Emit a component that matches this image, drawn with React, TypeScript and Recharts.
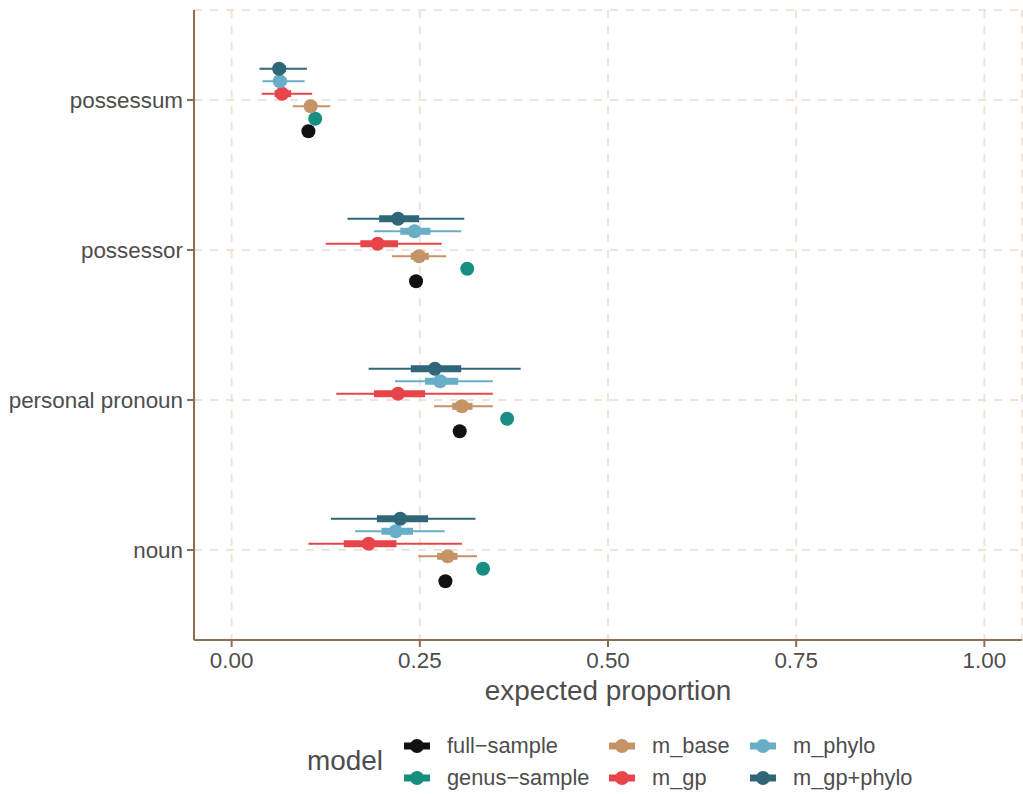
import React from "react"
import { ScatterChart, Scatter, XAxis, YAxis, CartesianGrid, ErrorBar } from "recharts"

// categories from top to bottom
const categories = ["possessum", "possessor", "personal pronoun", "noun"]
const xTicks = [0, 0.25, 0.5, 0.75, 1]

const models = ["full-sample", "genus-sample", "m_base", "m_gp", "m_phylo", "m_gp+phylo"]

// point estimates per category (same order as categories)
const fullSample = [0.102, 0.245, 0.303, 0.284]
const genusSample = [0.111, 0.313, 0.366, 0.334]

const baseEst = [0.105, 0.249, 0.306, 0.287]
const baseLo95 = [0.081, 0.213, 0.269, 0.248]
const baseHi95 = [0.131, 0.285, 0.347, 0.326]
const baseLo50 = [0.097, 0.238, 0.293, 0.273]
const baseHi50 = [0.113, 0.262, 0.32, 0.3]

const gpEst = [0.067, 0.194, 0.221, 0.182]
const gpLo95 = [0.04, 0.125, 0.139, 0.102]
const gpHi95 = [0.107, 0.279, 0.347, 0.306]
const gpLo50 = [0.057, 0.171, 0.189, 0.149]
const gpHi50 = [0.079, 0.221, 0.257, 0.219]

const phyloEst = [0.064, 0.243, 0.277, 0.218]
const phyloLo95 = [0.041, 0.189, 0.217, 0.164]
const phyloHi95 = [0.097, 0.305, 0.347, 0.283]
const phyloLo50 = [0.056, 0.224, 0.257, 0.199]
const phyloHi50 = [0.073, 0.264, 0.301, 0.241]

const gpPhyloEst = [0.063, 0.221, 0.27, 0.224]
const gpPhyloLo95 = [0.037, 0.154, 0.182, 0.132]
const gpPhyloHi95 = [0.1, 0.309, 0.384, 0.324]
const gpPhyloLo50 = [0.055, 0.196, 0.238, 0.193]
const gpPhyloHi50 = [0.072, 0.249, 0.305, 0.261]

const colors: Record<string, string> = {
  "full-sample": "#111111",
  "genus-sample": "#168f80",
  m_base: "#c49467",
  m_gp: "#e8454a",
  m_phylo: "#67aec6",
  "m_gp+phylo": "#2f6678",
}

// vertical dodge within a category
const dodge: Record<string, number> = {
  "full-sample": -0.208,
  "genus-sample": -0.125,
  m_base: -0.042,
  m_gp: 0.042,
  m_phylo: 0.125,
  "m_gp+phylo": 0.208,
}

const catY = (i: number) => categories.length - i

const build = (model: string, est: number[], lo95?: number[], hi95?: number[], lo50?: number[], hi50?: number[]) =>
  est.map((v, i) => ({
    x: v,
    y: catY(i) + dodge[model],
    e95: lo95 && hi95 ? [v - lo95[i], hi95[i] - v] : undefined,
    e50: lo50 && hi50 ? [v - lo50[i], hi50[i] - v] : undefined,
  }))

const series = [
  { name: "full-sample", data: build("full-sample", fullSample), ci: false },
  { name: "genus-sample", data: build("genus-sample", genusSample), ci: false },
  { name: "m_base", data: build("m_base", baseEst, baseLo95, baseHi95, baseLo50, baseHi50), ci: true },
  { name: "m_gp", data: build("m_gp", gpEst, gpLo95, gpHi95, gpLo50, gpHi50), ci: true },
  { name: "m_phylo", data: build("m_phylo", phyloEst, phyloLo95, phyloHi95, phyloLo50, phyloHi50), ci: true },
  { name: "m_gp+phylo", data: build("m_gp+phylo", gpPhyloEst, gpPhyloLo95, gpPhyloHi95, gpPhyloLo50, gpPhyloHi50), ci: true },
]

const FONT = "'Liberation Sans', Arial, sans-serif"
const AXIS = "#8b6f50"
const TEXT = "#4d4d4d"

const Dot = (color: string) => (props: any) => <circle cx={props.cx} cy={props.cy} r={7} fill={color} />

const LegendKey = ({ color }: { color: string }) => (
  <svg width={28} height={16} style={{ display: "block" }}>
    <line x1={1} y1={8} x2={27} y2={8} stroke={color} strokeWidth={7} />
    <circle cx={14} cy={8} r={7} fill={color} />
  </svg>
)

const legendCols = [
  ["full-sample", "genus-sample"],
  ["m_base", "m_gp"],
  ["m_phylo", "m_gp+phylo"],
]

export default function App() {
  return (
    <div style={{ position: "absolute", left: 0, top: 0, width: 1023, height: 794, background: "#fff", fontFamily: FONT }}>
      <ScatterChart width={1023} height={794} margin={{ top: 10, right: 1, bottom: 0, left: 0 }}>
        <CartesianGrid stroke="#f0e2d4" strokeDasharray="8 8" strokeWidth={2} />
        <XAxis
          type="number"
          dataKey="x"
          domain={[-0.05, 1.05]}
          ticks={xTicks}
          allowDataOverflow
          height={154}
          tickFormatter={(v) => v.toFixed(2)}
          tick={{ fill: TEXT, fontSize: 22.4, fontFamily: FONT }}
          tickSize={7}
          tickMargin={5}
          stroke={AXIS}
          strokeWidth={2}
          label={{ value: "expected proportion", position: "insideTop", offset: 40, fill: TEXT, fontSize: 27.9, fontFamily: FONT }}
        />
        <YAxis
          type="number"
          dataKey="y"
          domain={[0.4, 4.6]}
          ticks={[1, 2, 3, 4]}
          allowDataOverflow
          width={194}
          tickFormatter={(v) => categories[categories.length - v]}
          tick={{ fill: TEXT, fontSize: 22.4, fontFamily: FONT }}
          tickSize={7}
          tickMargin={4}
          stroke={AXIS}
          strokeWidth={2}
        />
        {series.map((s) => (
          <Scatter key={s.name} name={s.name} data={s.data} fill={colors[s.name]} shape={Dot(colors[s.name])} isAnimationActive={false}>
            {s.ci && <ErrorBar dataKey="e95" direction="x" width={0} stroke={colors[s.name]} strokeWidth={2} />}
            {s.ci && <ErrorBar dataKey="e50" direction="x" width={0} stroke={colors[s.name]} strokeWidth={7} />}
          </Scatter>
        ))}
      </ScatterChart>
      <div style={{ position: "absolute", left: 307, top: 745, fontSize: 27.9, color: TEXT }}>model</div>
      {legendCols.map((col, ci) => (
        <div key={ci} style={{ position: "absolute", left: [403, 608, 749][ci], top: 730 }}>
          {col.map((m) => (
            <div key={m} style={{ display: "flex", alignItems: "center", height: 32 }}>
              <LegendKey color={colors[m]} />
              <span style={{ marginLeft: 16, fontSize: 21.8, color: TEXT }}>{m.replace("-", "\u2212")}</span>
            </div>
          ))}
        </div>
      ))}
    </div>
  )
}
